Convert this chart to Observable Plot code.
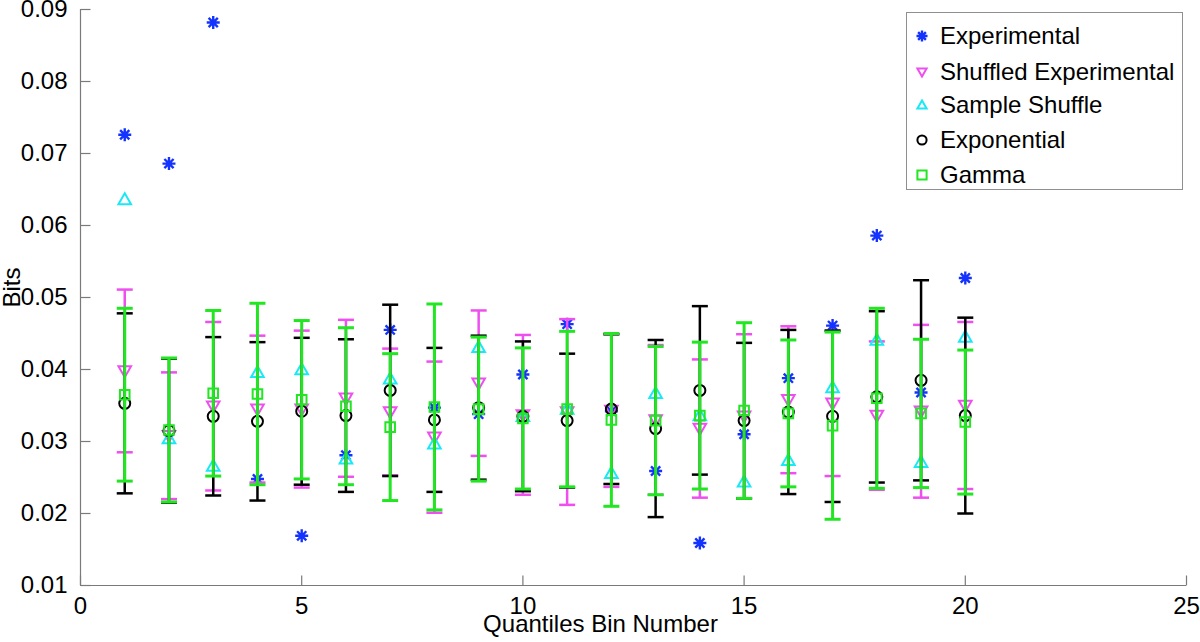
<!DOCTYPE html>
<html><head><meta charset="utf-8">
<script src="https://cdn.jsdelivr.net/npm/d3@7"></script>
<script src="https://cdn.jsdelivr.net/npm/@observablehq/plot@0.6"></script>
<style>
body{margin:0;background:#fff;}
#wrap{position:relative;width:1200px;height:642px;font-family:"Liberation Sans",Arial,Helvetica,sans-serif;}
#legend{position:absolute;left:906px;top:12px;width:275px;height:176px;border:1px solid #8f8f8f;background:#fff;}
.row{position:absolute;left:0;height:30px;display:flex;align-items:center;font-size:24px;color:#000;white-space:nowrap;}
.row svg{margin-left:6px;margin-right:9px;}
</style></head><body><div id="wrap"></div>
<script>
// ---- data ----
const bins = [1,2,3,4,5,6,7,8,9,10,11,12,13,14,15,16,17,18,19,20];
const experimental = [0.0726,0.0686,0.0882,0.0248,0.0169,0.0281,0.0455,0.0347,0.0338,0.0393,0.0463,0.0342,0.0259,0.0159,0.0310,0.0388,0.0461,0.0586,0.0368,0.0527];
const shuffledMean = [0.0398,0.0308,0.0349,0.0345,0.0345,0.0360,0.0341,0.0306,0.0381,0.0337,0.0341,0.0343,0.0330,0.0318,0.0335,0.0358,0.0353,0.0336,0.0342,0.0350];
const shuffledErr  = [0.0113,0.0088,0.0117,0.0102,0.0109,0.0109,0.0088,0.0105,0.0101,0.0111,0.0129,0.0106,0.0104,0.0096,0.0114,0.0102,0.0101,0.0103,0.0120,0.0116];
const sampleShuffle = [0.0636,0.0304,0.0266,0.0396,0.0400,0.0276,0.0387,0.0297,0.0431,0.0335,0.0345,0.0256,0.0367,0.0336,0.0244,0.0274,0.0375,0.0441,0.0271,0.0445];
const exponentialMean = [0.0353,0.0315,0.0335,0.0328,0.0342,0.0336,0.0371,0.0330,0.0347,0.0335,0.0329,0.0345,0.0318,0.0371,0.0329,0.0341,0.0335,0.0362,0.0385,0.0336];
const exponentialErr  = [0.0125,0.0100,0.0110,0.0110,0.0102,0.0106,0.0119,0.0100,0.0100,0.0104,0.0093,0.0104,0.0123,0.0117,0.0108,0.0114,0.0119,0.0119,0.0139,0.0136];
const gammaMean = [0.0365,0.0316,0.0367,0.0366,0.0358,0.0349,0.0320,0.0348,0.0345,0.0332,0.0345,0.0330,0.0329,0.0336,0.0343,0.0339,0.0322,0.0360,0.0339,0.0327];
const gammaErr  = [0.0120,0.0100,0.0115,0.0126,0.0110,0.0109,0.0102,0.0143,0.0100,0.0098,0.0108,0.0120,0.0103,0.0102,0.0122,0.0102,0.0130,0.0125,0.0103,0.0100];
const xTicks = [0,5,10,15,20,25];
const yTicks = [0.01,0.02,0.03,0.04,0.05,0.06,0.07,0.08,0.09];
const seriesNames = ["Experimental","Shuffled Experimental","Sample Shuffle","Exponential","Gamma"];
const seriesColors = ["#1433ff","#ee4fee","#1ae8f5","#000000","#22e622"];

// ---- marker shapes ----
const rad = s => Math.sqrt(s / Math.PI);
const asterisk8 = {draw(c, s){const r = rad(s), d = r*Math.SQRT1_2;
  c.moveTo(-r,0);c.lineTo(r,0);c.moveTo(0,-r);c.lineTo(0,r);
  c.moveTo(-d,-d);c.lineTo(d,d);c.moveTo(-d,d);c.lineTo(d,-d);}};
const triUp = {draw(c, s){const r = rad(s); c.moveTo(0,-r); c.lineTo(r,r*0.75); c.lineTo(-r,r*0.75); c.closePath();}};
const triDown = {draw(c, s){const r = rad(s); c.moveTo(0,r); c.lineTo(r,-r*0.75); c.lineTo(-r,-r*0.75); c.closePath();}};
const circ = {draw(c, s){const r = rad(s); c.moveTo(r,0); c.arc(0,0,r,0,2*Math.PI);}};
const sq = {draw(c, s){const r = rad(s); c.rect(-r,-r,2*r,2*r);}};
const hcap = {draw(c, s){const r = rad(s); c.moveTo(-r,0); c.lineTo(r,0);}};
const vtick = {draw(c, s){const r = rad(s); c.moveTo(0,0); c.lineTo(0,-r);}};
const htick = {draw(c, s){const r = rad(s); c.moveTo(0,0); c.lineTo(r,0);}};
const seriesSymbols = [asterisk8, triDown, triUp, circ, sq];

const rows = bins.map((b,i) => ({bin:b, exp:experimental[i], sm:shuffledMean[i], se:shuffledErr[i],
  ss:sampleShuffle[i], em:exponentialMean[i], ee:exponentialErr[i], gm:gammaMean[i], ge:gammaErr[i]}));

function errSeries(m, e, color, sym, r, lw) {
  return [
    Plot.ruleX(rows, {x:"bin", y1:d=>d[m]-d[e], y2:d=>d[m]+d[e], stroke:color, strokeWidth:lw}),
    Plot.dot(rows, {x:"bin", y:d=>d[m]+d[e], symbol:hcap, r:8, stroke:color, strokeWidth:lw}),
    Plot.dot(rows, {x:"bin", y:d=>d[m]-d[e], symbol:hcap, r:8, stroke:color, strokeWidth:lw}),
    Plot.dot(rows, {x:"bin", y:m, symbol:sym, r:r, stroke:color, fill:"none", strokeWidth:2})
  ];
}

const axisColor = "#7a7a7a";
const chart = Plot.plot({
  width:1200, height:642, marginLeft:80, marginRight:14, marginTop:9, marginBottom:57,
  style:{fontFamily:'"Liberation Sans",Arial,Helvetica,sans-serif', fontSize:"24px", color:"#000", background:"#fff", overflow:"visible"},
  x:{domain:[0,25]},
  y:{domain:[0.01,0.09]},
  marks:[
    Plot.ruleX([0], {stroke:axisColor, strokeWidth:1.2}),
    Plot.ruleY([0.01], {stroke:axisColor, strokeWidth:1.2}),
    Plot.dot(xTicks, {x:d=>d, frameAnchor:"bottom", symbol:vtick, r:10, stroke:axisColor, strokeWidth:1.2}),
    Plot.dot(yTicks, {y:d=>d, frameAnchor:"left", symbol:htick, r:10, stroke:axisColor, strokeWidth:1.2}),
    Plot.axisY({ticks:yTicks, tickSize:0, tickPadding:13, tickFormat:d3.format(".2f"), label:null, fill:"#000"}),
    Plot.axisX({ticks:xTicks, tickSize:0, tickPadding:11, label:null, fill:"#000"}),
    Plot.text(["Quantiles Bin Number"], {text:d=>d, frameAnchor:"bottom", dx:-33, dy:46, fill:"#000"}),
    Plot.text(["Bits"], {text:d=>d, frameAnchor:"left", dx:-68, dy:10, rotate:-90, fill:"#000"}),
    Plot.dot(rows, {x:"bin", y:"exp", symbol:asterisk8, r:6.5, stroke:seriesColors[0], strokeWidth:2.4}),
    ...errSeries("sm","se", seriesColors[1], triDown, 6.3, 2.5),
    Plot.dot(rows, {x:"bin", y:"ss", symbol:triUp, r:6.3, stroke:seriesColors[2], fill:"none", strokeWidth:2}),
    ...errSeries("em","ee", seriesColors[3], circ, 5.5, 2.5),
    ...errSeries("gm","ge", seriesColors[4], sq, 4.8, 3)
  ]
});
const wrap = document.getElementById("wrap");
wrap.appendChild(chart);

// legend
const leg = document.createElement("div");
leg.id = "legend";
const centers = [23,59,92,127,162];
seriesNames.forEach((name,i) => {
  const row = document.createElement("div");
  row.className = "row";
  row.style.top = (centers[i]-15) + "px";
  const svg = d3.create("svg").attr("width",18).attr("height",18);
  svg.append("path").attr("transform","translate(9,9)")
    .attr("d", d3.symbol(seriesSymbols[i], Math.PI*(i===0?5.5*5.5:4.6*4.6))())
    .attr("fill","none").attr("stroke",seriesColors[i]).attr("stroke-width", i===0?2.4:2);
  row.appendChild(svg.node());
  const span = document.createElement("span");
  span.textContent = name;
  row.appendChild(span);
  leg.appendChild(row);
});
wrap.appendChild(leg);
</script></body></html>
